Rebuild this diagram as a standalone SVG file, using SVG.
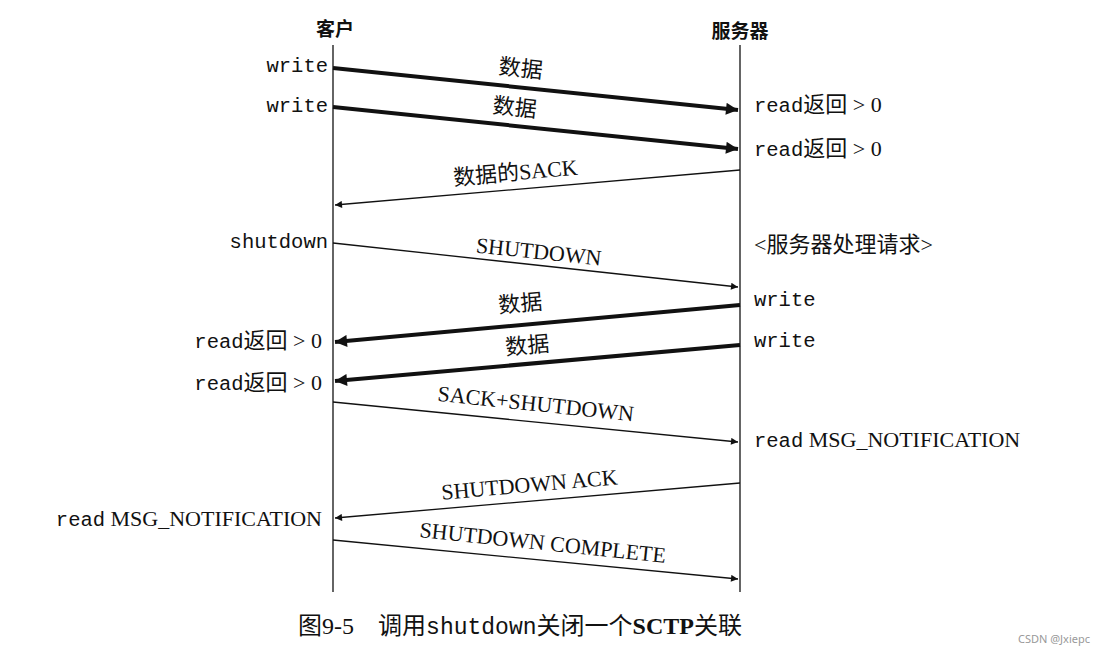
<svg xmlns="http://www.w3.org/2000/svg" width="1103" height="654" viewBox="0 0 1103 654">
<style>
.m{font-family:"Liberation Mono",monospace;font-size:20.5px;fill:#111}
.s{font-family:"Liberation Serif","Noto Sans CJK SC",serif;font-size:22px;fill:#111}
.h{font-family:"Noto Sans CJK SC",sans-serif;font-size:19px;font-weight:bold;fill:#111}
.t{stroke:#111;stroke-width:1.3;fill:none}
.k{stroke:#111;stroke-width:4;fill:none}
</style>
<defs>
<marker id="a" viewBox="0 0 10 10" refX="10" refY="5" markerWidth="12" markerHeight="7" markerUnits="userSpaceOnUse" orient="auto"><path d="M0,0L10,5L0,10z" fill="#111"/></marker>
<marker id="b" viewBox="0 0 10 10" refX="10" refY="5" markerWidth="16" markerHeight="12" markerUnits="userSpaceOnUse" orient="auto"><path d="M0,0L10,5L0,10z" fill="#111"/></marker>
</defs>
<rect width="1103" height="654" fill="#fff"/>
<g id="client"><text class="h" x="335" y="36" text-anchor="middle">客户</text><line class="t" x1="333" y1="45" x2="333" y2="592"/></g>
<g id="server"><text class="h" x="740" y="38" text-anchor="middle">服务器</text><line class="t" x1="740" y1="45" x2="740" y2="592"/></g>
<g id="connectors">
<line class="k" x1="333" y1="68" x2="738" y2="110" marker-end="url(#b)"/>
<line class="k" x1="333" y1="107" x2="738" y2="149" marker-end="url(#b)"/>
<line class="t" x1="740" y1="170" x2="335" y2="205" marker-end="url(#a)"/>
<line class="t" x1="333" y1="243" x2="738" y2="287" marker-end="url(#a)"/>
<line class="k" x1="740" y1="305" x2="335" y2="342" marker-end="url(#b)"/>
<line class="k" x1="740" y1="345" x2="335" y2="381" marker-end="url(#b)"/>
<line class="t" x1="333" y1="402" x2="738" y2="442" marker-end="url(#a)"/>
<line class="t" x1="740" y1="483" x2="335" y2="518" marker-end="url(#a)"/>
<line class="t" x1="333" y1="540" x2="738" y2="579" marker-end="url(#a)"/>
</g>
<g id="labels">
<text class="s" transform="translate(520,76) rotate(6)" text-anchor="middle">数据</text>
<text class="s" transform="translate(514,115) rotate(6)" text-anchor="middle">数据</text>
<text class="s" transform="translate(516,180) rotate(-5)" text-anchor="middle">数据的SACK</text>
<text class="s" transform="translate(538,259) rotate(6)" text-anchor="middle">SHUTDOWN</text>
<text class="s" transform="translate(521,311) rotate(-5)" text-anchor="middle">数据</text>
<text class="s" transform="translate(528,353) rotate(-5)" text-anchor="middle">数据</text>
<text class="s" transform="translate(535,411) rotate(6)" text-anchor="middle">SACK+SHUTDOWN</text>
<text class="s" transform="translate(530,492) rotate(-5)" text-anchor="middle">SHUTDOWN ACK</text>
<text class="s" transform="translate(542,550) rotate(6)" text-anchor="middle">SHUTDOWN COMPLETE</text>
</g>
<g id="left">
<text class="m" x="328" y="72" text-anchor="end">write</text>
<text class="m" x="328" y="112" text-anchor="end">write</text>
<text class="m" x="328" y="248" text-anchor="end">shutdown</text>
<text class="s" x="322" y="348" text-anchor="end"><tspan class="m">read</tspan>返回 &gt; 0</text>
<text class="s" x="322" y="390" text-anchor="end"><tspan class="m">read</tspan>返回 &gt; 0</text>
<text class="s" x="322" y="526" text-anchor="end"><tspan class="m">read</tspan> MSG_NOTIFICATION</text>
</g>
<g id="right">
<text class="s" x="754" y="112"><tspan class="m">read</tspan>返回 &gt; 0</text>
<text class="s" x="754" y="156"><tspan class="m">read</tspan>返回 &gt; 0</text>
<text class="s" x="754" y="252">&lt;服务器处理请求&gt;</text>
<text class="m" x="754" y="306">write</text>
<text class="m" x="754" y="347">write</text>
<text class="s" x="754" y="447"><tspan class="m">read</tspan> MSG_NOTIFICATION</text>
</g>
<text class="s" x="520" y="634" text-anchor="middle" style="font-size:24px">图9-5　调用<tspan class="m" style="font-size:23px">shutdown</tspan>关闭一个<tspan font-weight="bold">SCTP</tspan>关联</text>
<text x="1090" y="643" text-anchor="end" font-family="Noto Sans" font-size="11" fill="#999">CSDN @Jxiepc</text>
</svg>
